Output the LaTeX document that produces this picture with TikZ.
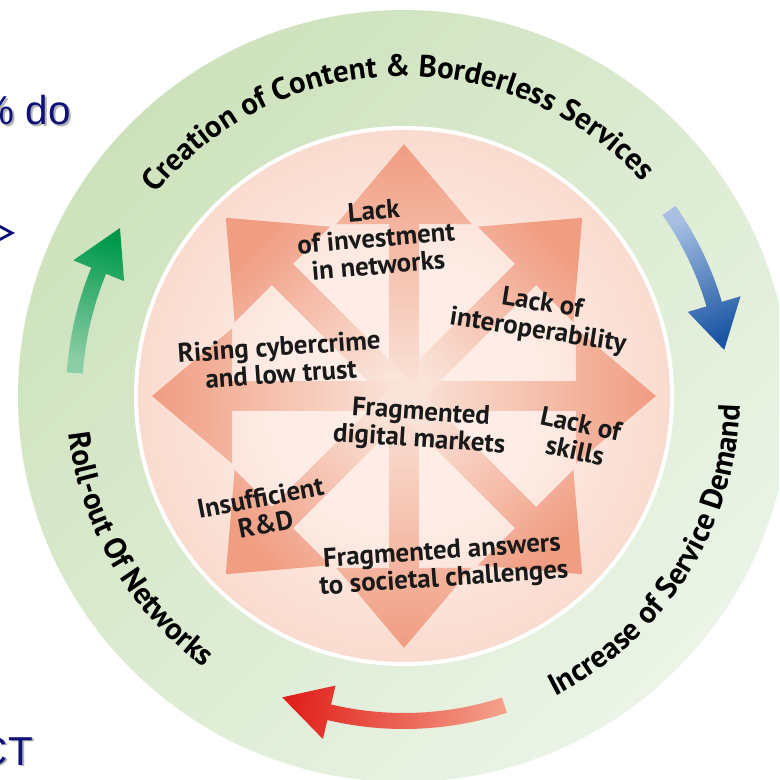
\documentclass[tikz,border=0pt]{standalone}
\usepackage{fontspec}
\setmainfont{PT Sans}
\newfontfamily\slidefont{Liberation Sans}
\usetikzlibrary{decorations.text}

\definecolor{ringgreen}{HTML}{CDE2BC}
\definecolor{ringpale}{HTML}{EBF4E7}
\definecolor{diskedge}{HTML}{F5B8A2}
\definecolor{diskcentre}{HTML}{FDEDE6}
\definecolor{spokedark}{HTML}{EF9274}
\definecolor{spokelight}{HTML}{FBE4DA}
\definecolor{slideblue}{HTML}{10107A}
\definecolor{greendark}{HTML}{00994C}
\definecolor{greenlight}{HTML}{8CCDA5}
\definecolor{bluedark}{HTML}{1A55A3}
\definecolor{bluelight}{HTML}{A9C0E3}
\definecolor{reddark}{HTML}{E11F1A}
\definecolor{redlight}{HTML}{F4A08A}

\pgfdeclareradialshading{diskglow}{\pgfpoint{0bp}{0bp}}{color(0bp)=(diskcentre); color(12bp)=(diskcentre); color(50bp)=(diskedge)}

\newcommand\ringfont{\fontsize{17.5}{20}\selectfont\bfseries}
\newcommand\issuefont{\fontsize{15.3}{15.6}\selectfont\bfseries}

% curved arrow on the ring: #1 style, #2 start, #3 head base, #4 tip, #5 radius
\newcommand\ringarrow[5]{%
  \shade[#1] (#2:{#5+0.16}) arc[start angle=#2, end angle=#3, radius=#5+0.16]
    -- (#3:{#5+0.55}) -- (#4:#5) -- (#3:{#5-0.55})
    -- (#3:{#5-0.16}) arc[start angle=#3, end angle=#2, radius=#5-0.16] -- cycle;}

\tikzset{
  issue/.style={font=\issuefont, align=center, text=black!90, inner sep=0pt},
  slidetext/.style={font=\slidefont\fontsize{23}{26}\selectfont, text=slideblue, inner sep=0pt, anchor=base west},
  slideshadow/.style={slidetext, text=black!30},
  spoke/.style={top color=spokedark, bottom color=spokelight, opacity=0.85},
  ringtext/.style={decorate, decoration={text along path, text align=center, text={#1}}},
}

\begin{document}
\begin{tikzpicture}
\useasboundingbox (-8.08,-7.68) rectangle (7.50,7.92);
\clip (-8.08,-7.68) rectangle (7.50,7.92);

% left-over slide text behind the picture
\node[slideshadow] at (-8.47,5.39) {\% do};
\node (pctdo) [slidetext] at (-8.51,5.42) {\% do};
\node[slideshadow] at (-8.47,-7.41) {CT};
\node (ct) [slidetext] at (-8.51,-7.38) {CT};
\filldraw[fill=white, draw=slideblue, line width=1.6pt] (-8.40,3.56) -- (-7.84,3.26) -- (-8.40,2.96);

% green ring
\shade[top color=ringgreen, bottom color=ringpale, shading angle=45] (0,0) circle (7.72);
\node (hub) at (0,0) {};

% pink disc
\fill[white] (0,0) circle (5.40);
\shade[shading=diskglow] (0,0) circle (5.32);

% eight spokes
\foreach \a in {0,45,...,315}{
  \pgfmathsetmacro\sa{\a-90}
  \shade[spoke, shading angle=\sa] (\a-90:0.3) -- (\a-4.98:3.453) -- (\a-21.43:3.695)
    -- (\a:5.04) -- (\a+21.43:3.695) -- (\a+4.98:3.453) -- (\a+90:0.3) -- cycle;
}

% ring arrows
\ringarrow{top color=greendark, bottom color=greenlight, shading angle=-17}{176}{157.7}{149.4}{6.6}
\ringarrow{top color=bluedark, bottom color=bluelight, shading angle=-158}{35}{16.5}{8.2}{6.47}
\ringarrow{top color=reddark, bottom color=redlight, shading angle=86}{288}{256.7}{248}{6.5}

% ring texts
{\ringfont
\path[ringtext={Creation of Content {\&} Borderless Services}]
  (171.4:6.40) arc[start angle=171.4, end angle=11.4, radius=6.40];
\path[ringtext={Increase of Service Demand}]
  (-112.4:6.72) arc[start angle=-112.4, end angle=47.6, radius=6.72];
\path[ringtext={Roll-out Of Networks}]
  (150:6.74) arc[start angle=150, end angle=270, radius=6.74];
}

% issues
\node (invest) [issue, rotate=5] at (-0.56,3.16) {Lack\\of investment\\in networks};
\node (interop) [issue, rotate=-9] at (2.72,1.56) {Lack of\\interoperability};
\node (cyber) [issue, rotate=4] at (-2.48,0.72) {Rising cybercrime\\and low trust};
\node (market) [issue, rotate=-4] at (0.32,-0.62) {Fragmented\\digital markets};
\node (skills) [issue, rotate=-12] at (3.48,-0.82) {Lack of\\skills};
\node (rnd) [issue, rotate=11] at (-2.82,-2.30) {Insufficient\\R\&D};
\node (society) [issue, rotate=4] at (0.78,-3.40) {Fragmented answers\\to societal challenges};
\end{tikzpicture}
\end{document}
